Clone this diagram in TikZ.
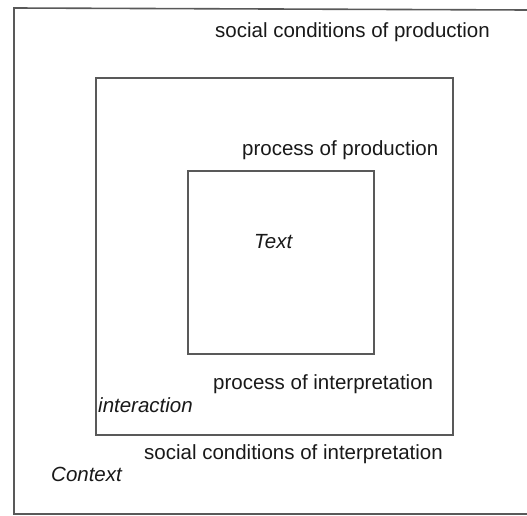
\documentclass[tikz,border=0pt]{standalone}
\usepackage{fontspec}
\setmainfont{Liberation Sans}
\begin{document}
\begin{tikzpicture}[x=1pt,y=-1pt,
  boxline/.style={draw=black!65,line width=1.6pt},
  lbl/.style={inner sep=0pt,anchor=mid west,text=black!90,font=\fontsize{20.5}{24}\selectfont},
  ilbl/.style={lbl,font=\fontsize{20.5}{24}\selectfont\itshape}]
\useasboundingbox[fill=white] (0,0) rectangle (527,516);
% outer box (right side cut off by the page)
\coordinate (otr) at (527,10);
\coordinate (otl) at (14,8);
\coordinate (obl) at (14,514);
\coordinate (obr) at (527,514);
\draw[boxline] (otr) -- (otl) -- (obl) -- (obr);
% middle box
\node[boxline,inner sep=0pt,minimum width=357pt,minimum height=357pt,anchor=north west] (mid) at (95,77) {};
% inner box
\node[boxline,inner sep=0pt,minimum width=186pt,minimum height=183pt,anchor=north west] (inner) at (187,170) {};
% labels
\node[lbl] (scp) at (215,35) {social conditions of production};
\node[lbl] (pp) at (242,153) {process of production};
\node[ilbl] (txt) at (254,246) {Text};
\node[lbl] (pi) at (213,387) {process of interpretation};
\node[ilbl] (inter) at (98,410) {interaction};
\node[lbl] (sci) at (144,457) {social conditions of interpretation};
\node[ilbl] (ctx) at (51,479) {Context};
\end{tikzpicture}
\end{document}
